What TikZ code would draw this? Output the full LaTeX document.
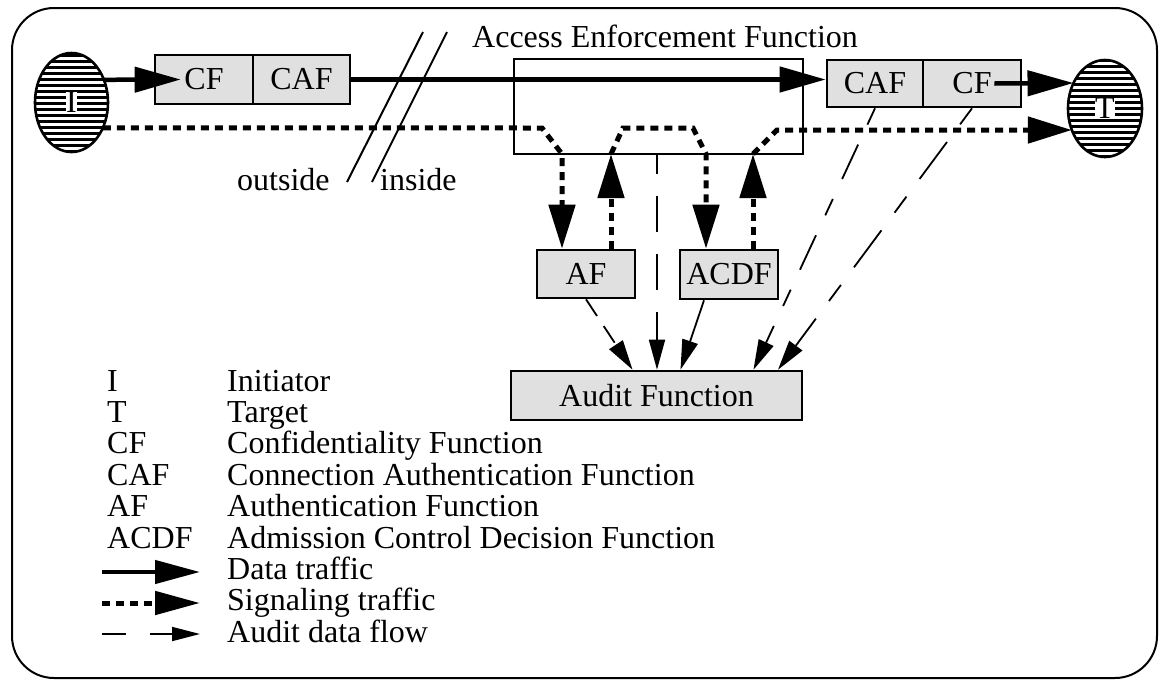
\documentclass[tikz,border=0pt]{standalone}
\usepackage{fontspec}
\setmainfont{Liberation Serif}
\usetikzlibrary{arrows.meta,shapes.geometric}

\begin{document}
\begin{tikzpicture}[x=1pt,y=-1pt,
  every node/.style={font=\fontsize{32}{32}\selectfont},
  fbox/.style={draw, line width=2.6pt, fill=black!12, inner sep=0pt},
  endpoint/.style={ellipse, draw, line width=2.6pt, inner sep=0pt, outer sep=0pt,
                   minimum width=73pt, minimum height=99pt},
  hatch/.style={line width=3pt},
  letter/.style={fill=white, inner sep=0.5pt},
  data/.style={line width=4.5pt, -{Triangle[length=46pt,width=25pt]}},
  dataline/.style={line width=4.5pt},
  sig/.style={line width=5pt, dash pattern=on 8pt off 6pt},
  sigarrow/.style={sig, -{Triangle[length=44pt,width=26pt]}},
  audit/.style={line width=1.8pt, dash pattern=on 36pt off 22pt,
                -{Triangle[length=30pt,width=16pt]}},
  auditsolid/.style={line width=1.8pt, -{Triangle[length=30pt,width=16pt]}},
  legtext/.style={anchor=base west, inner sep=0pt},
  slash/.style={line width=2pt}
]
\useasboundingbox (0,0) rectangle (1160,681);

% outer frame
\draw[line width=2pt, rounded corners=42pt] (12,8) rectangle (1157,678);

% initiator and target, hatched ellipses
\begin{scope}
  \clip (71.5,102.5) ellipse [x radius=36.5pt, y radius=49.5pt];
  \foreach \yy in {55,61,...,151} \draw[hatch] (30,\yy) -- (115,\yy);
\end{scope}
\node[endpoint] (I) at (71.5,102.5) {};
\node[letter] at (I) {I};

\begin{scope}
  \clip (1105,108.5) ellipse [x radius=37pt, y radius=48.5pt];
  \foreach \yy in {60,66,...,156} \draw[hatch] (1065,\yy) -- (1145,\yy);
\end{scope}
\node[endpoint, minimum width=74pt, minimum height=97pt] (T) at (1105,108.5) {};
\node[letter] at (T) {T};

% function boxes
\node[fbox, minimum width=98pt, minimum height=49pt] (CF1)  at (204,79.5)  {CF};
\node[fbox, minimum width=97pt, minimum height=49pt] (CAF1) at (301.5,79.5) {CAF};
\node[fbox, minimum width=96pt, minimum height=47pt] (CAF2) at (875,83.5)  {CAF};
\node[fbox, minimum width=98pt, minimum height=47pt] (CF2)  at (972,83.5)  {CF};
\node[fbox, minimum width=98pt, minimum height=48pt] (AF)   at (586,274)   {AF};
\node[fbox, minimum width=98pt, minimum height=49pt] (ACDF) at (729,274.5) {ACDF};
\node[fbox, minimum width=291pt, minimum height=49pt] (Audit) at (656.5,395.5) {Audit Function};

% access enforcement function
\node[draw, line width=2.6pt, inner sep=0pt, minimum width=289pt, minimum height=95pt] (AEF) at (658.5,106.5) {};
\node[legtext] (AEFlabel) at (472,47) {Access Enforcement Function};

% outside / inside boundary
\draw[slash] (423,32) -- (347,182);
\draw[slash] (447,32) -- (372,182);
\node[legtext] (outside) at (237,190) {outside};
\node[legtext] (inside) at (380,190) {inside};

% data traffic
\draw[data] (I.35) -- ([xshift=27pt]CF1.west);
\draw[data] (CAF1.east) -- (CAF1.east -| CAF2.west);
\draw[data] ([xshift=-28pt]CF2.east) -- (T.141);

% signaling traffic
\coordinate (s1) at (542,128);
\coordinate (s2) at (562,154);
\coordinate (u1) at (611,154);
\coordinate (s3) at (623,128);
\coordinate (s4) at (693,128);
\coordinate (s5) at (706,154);
\coordinate (u2) at (753,154);
\coordinate (s6) at (777,130);
\draw[sigarrow] (I.-39) -- (s1) -- (s2) -- (s2 |- AF.north);
\draw[sigarrow] (u1 |- AF.north) -- (u1);
\draw[sigarrow] (u1) -- (s3) -- (s4) -- (s5) -- (s5 |- ACDF.north);
\draw[sigarrow] (u2 |- ACDF.north) -- (u2);
\draw[sigarrow] (u2) -- (s6) -- (T.213);

% audit data flow
\coordinate (av) at (657,0);
\draw[line width=1.8pt, dash pattern=on 36pt off 22pt, dash phase=17pt,
      -{Triangle[length=30pt,width=16pt]}] (AEF.south -| av) -- (Audit.north -| av);
\draw[audit, dash pattern=on 20pt off 12pt] (AF.south) -- ([xshift=-24pt]Audit.north);
\draw[auditsolid] ([xshift=-25pt]ACDF.south) -- ([xshift=24pt]Audit.north);
\draw[audit, dash pattern=on 18pt off 22pt on 38pt off 22pt] (CAF2.south) -- ([xshift=97pt]Audit.north);
\draw[audit, dash pattern=on 20pt off 22pt on 46pt off 22pt] (CF2.south) -- ([xshift=121.5pt]Audit.north);

% legend
\foreach \ab/\txt/\yy in {I/Initiator/391, T/Target/422.4,
    CF/Confidentiality Function/453.8,
    CAF/Connection Authentication Function/485.2,
    AF/Authentication Function/516.6,
    ACDF/Admission Control Decision Function/548}{
  \node[legtext] at (107,\yy) {\ab};
  \node[legtext] at (227,\yy) {\txt};
}
\node[legtext] (ldt) at (227,579.4) {Data traffic};
\node[legtext] (lst) at (227,610.8) {Signaling traffic};
\node[legtext] (lat) at (227,642.2) {Audit data flow};

\coordinate (ld0) at (102,572);
\coordinate (ld1) at (200,572);
\coordinate (ls0) at (102,603);
\coordinate (ls1) at (200,603);
\coordinate (la0) at (102,634);
\coordinate (la1) at (200,634);
\draw[line width=4.5pt, -{Triangle[length=45pt,width=23pt]}] (ld0) -- (ld1);
\draw[line width=5pt, dash pattern=on 8pt off 6pt, -{Triangle[length=45pt,width=23pt]}] (ls0) -- (ls1);
\draw[line width=1.8pt, dash pattern=on 24pt off 24pt on 80pt off 1pt, -{Triangle[length=28pt,width=14pt]}] (la0) -- (la1);
\end{tikzpicture}
\end{document}
